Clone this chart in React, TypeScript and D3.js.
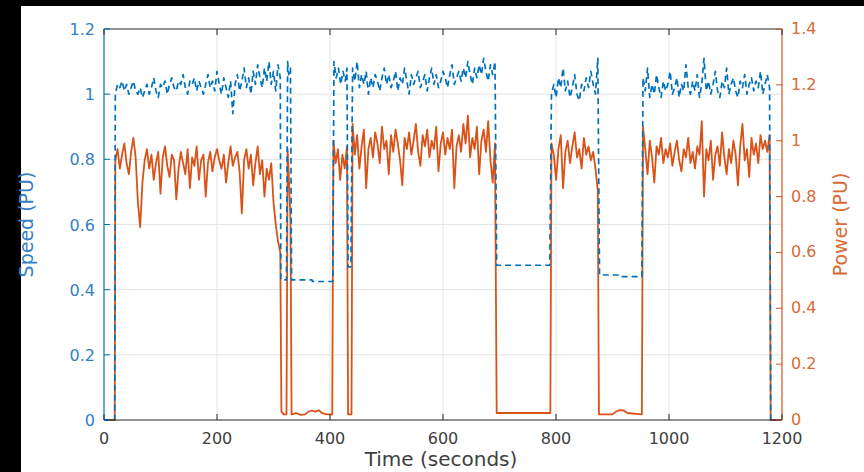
import React from 'react';
import * as d3 from 'd3';

// Axis ticks
const timeTicks = [0, 200, 400, 600, 800, 1000, 1200];
const speedTicks = [0, 0.2, 0.4, 0.6, 0.8, 1, 1.2];
const powerTicks = [0, 0.2, 0.4, 0.6, 0.8, 1, 1.2, 1.4];
const speedTickLabels = ['0', '0.2', '0.4', '0.6', '0.8', '1', '1.2'];
const powerTickLabels = ['0', '0.2', '0.4', '0.6', '0.8', '1', '1.2', '1.4'];

// Running intervals (seconds): evenly sampled between start and end
const runStart = [20, 440, 792, 954];
const runEnd = [312, 692, 874, 1178];

const speedRun1 = [1.00, 1.03, 1.02, 1.04, 1.01, 1.03, 1.00, 1.02, 1.04, 1.01, 1.00, 1.02, 0.99, 1.01, 1.03, 1.00, 1.02, 1.05, 1.01, 0.99, 1.03, 1.02, 1.04, 1.00, 1.03, 1.05, 1.02, 1.01, 1.04, 1.03, 1.06, 1.02, 1.00, 1.04, 1.03, 1.05, 1.01, 1.04, 1.02, 1.00, 1.03, 1.06, 1.02, 1.04, 1.01, 1.07, 1.03, 1.00, 1.05, 1.02, 0.99, 1.04, 0.94, 1.03, 1.06, 1.01, 1.04, 1.08, 1.02, 1.05, 1.00, 1.07, 1.03, 1.09, 1.05, 1.02, 1.08, 1.04, 1.10, 1.03, 1.07, 1.01, 1.09, 1.05];
const speedRun2 = [1.08, 1.04, 1.10, 1.02, 1.06, 1.03, 1.07, 1.00, 1.05, 1.02, 1.06, 1.04, 1.01, 1.05, 1.08, 1.03, 1.06, 1.02, 1.04, 1.07, 1.01, 1.05, 1.03, 1.08, 1.04, 1.00, 1.06, 1.03, 1.05, 1.07, 1.02, 1.04, 1.06, 1.01, 1.05, 1.08, 1.03, 1.06, 1.02, 1.04, 1.07, 1.05, 1.02, 1.06, 1.09, 1.03, 1.05, 1.07, 1.04, 1.08, 1.05, 1.10, 1.06, 1.03, 1.08, 1.05, 1.09, 1.06, 1.11, 1.07, 1.04, 1.09, 1.06, 1.10];
const speedRun3 = [1.00, 1.03, 0.99, 1.05, 1.02, 1.08, 1.01, 1.04, 0.99, 1.02, 1.06, 1.00, 0.98, 1.03, 1.01, 1.05, 1.02, 1.07, 1.03, 1.00, 1.11];
const speedRun4 = [1.05, 1.01, 1.08, 0.99, 1.03, 1.00, 1.06, 1.02, 0.99, 1.04, 1.01, 1.03, 1.07, 1.00, 1.02, 1.05, 0.99, 1.03, 1.01, 1.09, 1.02, 1.00, 1.04, 1.01, 1.06, 0.99, 1.03, 1.11, 1.01, 1.04, 1.00, 1.03, 1.07, 1.01, 0.99, 1.04, 1.02, 1.08, 1.00, 1.03, 1.05, 1.01, 0.99, 1.04, 1.02, 1.06, 1.00, 1.03, 1.05, 1.01, 1.04, 1.02, 1.07, 1.00, 1.03, 1.06, 1.02];

const powerRun1 = [0.93, 0.97, 0.90, 0.95, 0.99, 0.92, 0.88, 0.96, 1.01, 0.94, 0.78, 0.69, 0.85, 0.93, 0.97, 0.90, 0.95, 0.86, 0.92, 0.96, 0.81, 0.94, 0.98, 0.91, 0.87, 0.95, 0.93, 0.79, 0.90, 0.96, 0.92, 0.88, 0.97, 0.83, 0.94, 0.91, 0.98, 0.86, 0.93, 0.95, 0.80, 0.92, 0.96, 0.89, 0.94, 0.97, 0.93, 0.90, 0.95, 0.85, 0.92, 0.98, 0.91, 0.94, 0.96, 0.89, 0.74, 0.93, 0.97, 0.90, 0.95, 0.84, 0.92, 0.98, 0.88, 0.93, 0.80, 0.90, 0.86, 0.92, 0.78, 0.70, 0.64, 0.60];
const powerRun2 = [1.06, 0.95, 1.02, 0.90, 0.98, 1.04, 0.83, 0.97, 1.01, 0.94, 1.03, 0.99, 0.92, 1.05, 0.97, 1.00, 0.88, 1.02, 0.96, 1.04, 0.99, 0.93, 0.84, 1.01, 0.97, 1.03, 0.95, 1.00, 1.06, 0.96, 0.91, 1.02, 0.98, 1.04, 0.94, 1.00, 0.97, 1.05, 0.89, 0.99, 1.03, 0.95, 1.01, 0.97, 1.04, 0.83, 0.98, 1.02, 0.96, 1.06, 0.99, 1.09, 0.94, 1.01, 0.97, 1.05, 0.88, 1.00, 1.04, 0.96, 1.07, 0.93, 0.85, 0.99];
const powerRun3 = [0.99, 0.95, 0.86, 0.97, 1.02, 0.83, 0.96, 1.00, 0.92, 0.98, 1.03, 0.94, 0.97, 0.90, 1.01, 0.95, 0.98, 0.93, 0.96, 0.90, 0.82];
const powerRun4 = [1.05, 0.97, 0.88, 1.00, 0.94, 0.85, 0.98, 0.95, 1.01, 0.92, 0.97, 0.94, 0.99, 0.91, 0.96, 1.00, 0.93, 0.89, 0.97, 0.94, 1.01, 0.92, 0.96, 0.90, 0.98, 0.95, 1.07, 0.80, 0.97, 0.93, 1.00, 0.86, 0.95, 0.98, 0.91, 1.03, 0.94, 0.88, 0.97, 0.92, 1.00, 0.95, 0.84, 0.98, 1.06, 0.93, 0.97, 0.87, 1.01, 0.95, 0.99, 0.92, 1.02, 0.97, 1.00, 0.96, 1.02];

// Start-up, stops and restarts between runs: [time, value]
const speedLead: [number, number][] = [[0, 0], [19, 0]];
const speedGapA: [number, number][] = [[313, 0.43], [323, 0.43], [325, 1.10], [327, 1.06], [330, 1.08], [332, 0.43], [368, 0.43], [369, 0.425], [405, 0.425], [407, 1.10], [411, 1.05], [415, 1.08], [419, 1.03], [423, 1.07], [427, 1.04], [430, 1.08], [432, 0.47], [437, 0.47]];
const speedGapB: [number, number][] = [[695, 0.475], [789, 0.475]];
const speedGapC: [number, number][] = [[877, 0.445], [915, 0.445], [916, 0.44], [952, 0.44]];
const speedTail: [number, number][] = [[1180, 0], [1200, 0]];

const powerLead: [number, number][] = [[0, 0], [19, 0]];
const powerGapA: [number, number][] = [[314, 0.03], [318, 0.02], [323, 0.02], [325, 0.97], [327, 0.88], [330, 0.72], [332, 0.02], [340, 0.025], [348, 0.018], [356, 0.02], [362, 0.03], [368, 0.034], [374, 0.03], [380, 0.035], [386, 0.025], [394, 0.02], [404, 0.02], [406, 1.0], [410, 0.92], [414, 0.97], [418, 0.86], [422, 0.95], [426, 0.90], [430, 0.98], [432, 0.02], [438, 0.02]];
const powerGapB: [number, number][] = [[695, 0.025], [790, 0.025]];
const powerGapC: [number, number][] = [[876, 0.02], [900, 0.02], [906, 0.03], [912, 0.035], [920, 0.034], [926, 0.025], [952, 0.02]];
const powerTail: [number, number][] = [[1180, 0], [1200, 0]];

const W = 864;
const H = 472;
const plot = { left: 104, right: 782, top: 29, bottom: 420 };

const BLUE = '#0072BD';
const ORANGE = '#D95319';
const BLUE_TEXT = '#3580c2';
const ORANGE_TEXT = '#d96a35';
const AXIS_GRAY = '#262626';
const TEXT_GRAY = '#404040';
const FONT = '"DejaVu Sans", "Liberation Sans", Arial, sans-serif';

function runPoints(values: number[], k: number): [number, number][] {
  const t0 = runStart[k];
  const t1 = runEnd[k];
  const n = values.length;
  return values.map((v, i) => [t0 + ((t1 - t0) * i) / (n - 1), v]);
}

const speedSeries: [number, number][] = [
  ...speedLead,
  ...runPoints(speedRun1, 0),
  ...speedGapA,
  ...runPoints(speedRun2, 1),
  ...speedGapB,
  ...runPoints(speedRun3, 2),
  ...speedGapC,
  ...runPoints(speedRun4, 3),
  ...speedTail,
];

const powerSeries: [number, number][] = [
  ...powerLead,
  ...runPoints(powerRun1, 0),
  ...powerGapA,
  ...runPoints(powerRun2, 1),
  ...powerGapB,
  ...runPoints(powerRun3, 2),
  ...powerGapC,
  ...runPoints(powerRun4, 3),
  ...powerTail,
];

export default function App() {
  const x = d3.scaleLinear().domain([0, 1200]).range([plot.left, plot.right]);
  const ySpeed = d3.scaleLinear().domain([0, 1.2]).range([plot.bottom, plot.top]);
  const yPower = d3.scaleLinear().domain([0, 1.4]).range([plot.bottom, plot.top]);

  const speedLine = d3
    .line<[number, number]>()
    .x((d) => x(d[0]))
    .y((d) => ySpeed(d[1]));
  const powerLine = d3
    .line<[number, number]>()
    .x((d) => x(d[0]))
    .y((d) => yPower(d[1]));

  const tickLen = 6;

  return (
    <svg
      width={W}
      height={H}
      viewBox={`0 0 ${W} ${H}`}
      style={{ position: 'fixed', left: 0, top: 0, display: 'block' }}
    >
      <rect x={0} y={0} width={W} height={H} fill="#000" />
      <rect x={21} y={6} width={W - 21} height={H - 6} fill="#fff" />

      {/* grid */}
      <g stroke="#e3e3e3" strokeWidth={1}>
        {timeTicks.slice(1, -1).map((t) => (
          <line key={`gx${t}`} x1={x(t)} x2={x(t)} y1={plot.top} y2={plot.bottom} />
        ))}
        {speedTicks.slice(1, -1).map((t) => (
          <line key={`gy${t}`} x1={plot.left} x2={plot.right} y1={ySpeed(t)} y2={ySpeed(t)} />
        ))}
      </g>

      {/* data */}
      <path d={powerLine(powerSeries) || ''} fill="none" stroke={ORANGE} strokeWidth={1.8} strokeLinejoin="round" />
      <path
        d={speedLine(speedSeries) || ''}
        fill="none"
        stroke={BLUE}
        strokeWidth={1.7}
        strokeDasharray="6,4"
        strokeLinejoin="round"
      />

      {/* axes frame */}
      <line x1={plot.left} x2={plot.right} y1={plot.top} y2={plot.top} stroke={AXIS_GRAY} strokeWidth={1} />
      <line x1={plot.left} x2={plot.right} y1={plot.bottom} y2={plot.bottom} stroke={AXIS_GRAY} strokeWidth={1} />
      <line x1={plot.left} x2={plot.left} y1={plot.top} y2={plot.bottom} stroke={BLUE} strokeWidth={1.2} />
      <line x1={plot.right} x2={plot.right} y1={plot.top} y2={plot.bottom} stroke={ORANGE} strokeWidth={1.2} />

      {/* x ticks */}
      {timeTicks.map((t) => (
        <g key={`xt${t}`}>
          <line x1={x(t)} x2={x(t)} y1={plot.bottom} y2={plot.bottom - tickLen} stroke={AXIS_GRAY} />
          <line x1={x(t)} x2={x(t)} y1={plot.top} y2={plot.top + tickLen} stroke={AXIS_GRAY} />
          <text x={x(t)} y={444} textAnchor="middle" fontFamily={FONT} fontSize={16} fill={TEXT_GRAY}>
            {t}
          </text>
        </g>
      ))}

      {/* left (speed) ticks */}
      {speedTicks.map((t, i) => (
        <g key={`yl${t}`}>
          <line x1={plot.left} x2={plot.left + tickLen} y1={ySpeed(t)} y2={ySpeed(t)} stroke={BLUE} />
          <text x={95} y={ySpeed(t) + 6} textAnchor="end" fontFamily={FONT} fontSize={16} fill={BLUE_TEXT}>
            {speedTickLabels[i]}
          </text>
        </g>
      ))}

      {/* right (power) ticks */}
      {powerTicks.map((t, i) => (
        <g key={`yr${t}`}>
          <line x1={plot.right} x2={plot.right - tickLen} y1={yPower(t)} y2={yPower(t)} stroke={ORANGE} />
          <text x={791} y={yPower(t) + 5} textAnchor="start" fontFamily={FONT} fontSize={16} fill={ORANGE_TEXT}>
            {powerTickLabels[i]}
          </text>
        </g>
      ))}

      {/* axis labels */}
      <text x={441} y={466} textAnchor="middle" fontFamily={FONT} fontSize={20} fill={TEXT_GRAY}>
        Time (seconds)
      </text>
      <text
        transform={`translate(33, ${(plot.top + plot.bottom) / 2}) rotate(-90)`}
        textAnchor="middle"
        fontFamily={FONT}
        fontSize={19}
        fill={BLUE_TEXT}
      >
        Speed (PU)
      </text>
      <text
        transform={`translate(847, ${(plot.top + plot.bottom) / 2}) rotate(-90)`}
        textAnchor="middle"
        fontFamily={FONT}
        fontSize={19}
        fill={ORANGE_TEXT}
      >
        Power (PU)
      </text>
    </svg>
  );
}
